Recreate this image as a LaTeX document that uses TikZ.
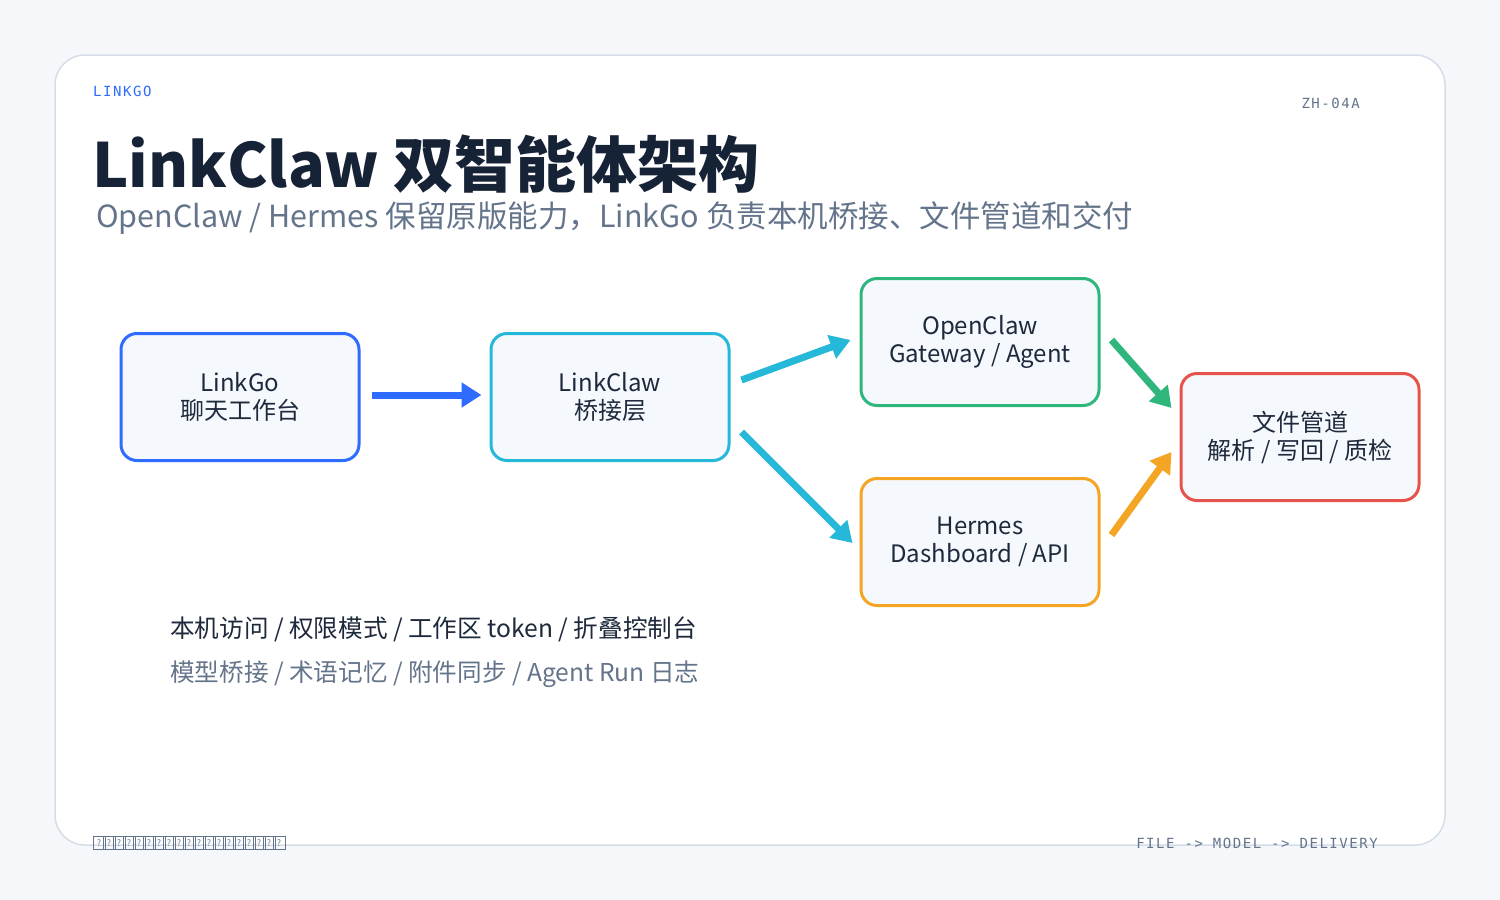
\documentclass[tikz,border=0pt]{standalone}
\usepackage{fontspec}
\setmainfont{Noto Sans CJK SC}
\newfontfamily\monof[LetterSpace=11]{DejaVu Sans Mono}
\usetikzlibrary{positioning,calc,arrows.meta}
\definecolor{pagebg}{HTML}{F5F7FA}
\definecolor{cardline}{HTML}{D5DEE8}
\definecolor{boxfill}{HTML}{F5F9FD}
\definecolor{ink}{HTML}{1E293B}
\definecolor{title}{HTML}{162235}
\definecolor{muted}{HTML}{64748B}
\definecolor{cblue}{HTML}{2F6BFF}
\definecolor{ccyan}{HTML}{26B8D8}
\definecolor{cgreen}{HTML}{2FB67C}
\definecolor{corange}{HTML}{F5A524}
\definecolor{cred}{HTML}{E5534B}
\tikzset{
  stage/.style={draw, line width=3pt, rounded corners=16pt, fill=boxfill,
    minimum width=238pt, minimum height=127pt, align=center, text=ink,
    font=\fontsize{24pt}{28pt}\selectfont},
  flow/.style={line width=7pt, -{Triangle[length=20pt,width=24pt]}},
  tofu/.style={draw=muted, text=muted, inner sep=0.6pt, minimum width=12pt,
    minimum height=13pt, font=\fontsize{9pt}{9pt}\selectfont}
}
\begin{document}
\begin{tikzpicture}[x=1pt,y=-1pt]
  \fill[pagebg] (0,0) rectangle (1500,900);
  \useasboundingbox (0,0) rectangle (1500,900);
  \draw[cardline, line width=1.5pt, fill=white, rounded corners=30pt] (55,55) rectangle (1445,845);
  % header
  \node[anchor=base west, text=cblue, font=\monof\fontsize{14pt}{14pt}\selectfont, inner sep=0] (brand) at (93,96) {LINKGO};
  \node[anchor=base east, text=muted, font=\monof\fontsize{14pt}{14pt}\selectfont, inner sep=0] (code) at (1360,108) {ZH-04A};
  \node[anchor=base west, text=title, font=\fontsize{61pt}{61pt}\selectfont\bfseries, inner sep=0] (head) at (92,187) {LinkClaw 双智能体架构};
  \node[anchor=base west, text=muted, font=\fontsize{30.5pt}{30pt}\selectfont, inner sep=0] (sub) at (96,227) {OpenClaw / Hermes 保留原版能力，LinkGo 负责本机桥接、文件管道和交付};
  % stages
  \node[stage, draw=cblue] (lg) at (240,397) {LinkGo\\聊天工作台};
  \node[stage, draw=ccyan] (lc) at (610,397) {LinkClaw\\桥接层};
  \node[stage, draw=cgreen] (oc) at (980,342) {OpenClaw\\Gateway / Agent};
  \node[stage, draw=corange] (hm) at (980,542) {Hermes\\Dashboard / API};
  \node[stage, draw=cred] (fp) at (1300,437) {文件管道\\解析 / 写回 / 质检};
  % connectors
  \draw[flow, cblue] ($(lg.east)+(11,-2)$) -- ($(lg.east)+(121,-2)$);
  \draw[flow, ccyan] ($(lc.east)+(11,-17)$) -- ($(oc.west)+(-9,-2)$);
  \draw[flow, ccyan] ($(lc.east)+(11,35)$) -- ($(hm.west)+(-7,1)$);
  \draw[flow, cgreen] ($(oc.east)+(11,-2)$) -- ($(fp.west)+(-8,-29)$);
  \draw[flow, corange] ($(hm.east)+(11,-7)$) -- ($(fp.west)+(-8,15)$);
  % notes
  \node[anchor=base west, text=ink, font=\fontsize{24.6pt}{24pt}\selectfont, inner sep=0] (note1) at (170,637) {本机访问 / 权限模式 / 工作区 token / 折叠控制台};
  \node[anchor=base west, text=muted, font=\fontsize{24.6pt}{24pt}\selectfont, inner sep=0] (note2) at (170,681) {模型桥接 / 术语记忆 / 附件同步 / Agent Run 日志};
  % footer
  \foreach \i in {0,...,18}
    \node[tofu] (tf\i) at (99+10*\i,843) {?};
  \node[anchor=base east, text=muted, font=\monof\fontsize{14pt}{14pt}\selectfont, inner sep=0] (foot) at (1378,848) {FILE -> MODEL -> DELIVERY};
\end{tikzpicture}
\end{document}
